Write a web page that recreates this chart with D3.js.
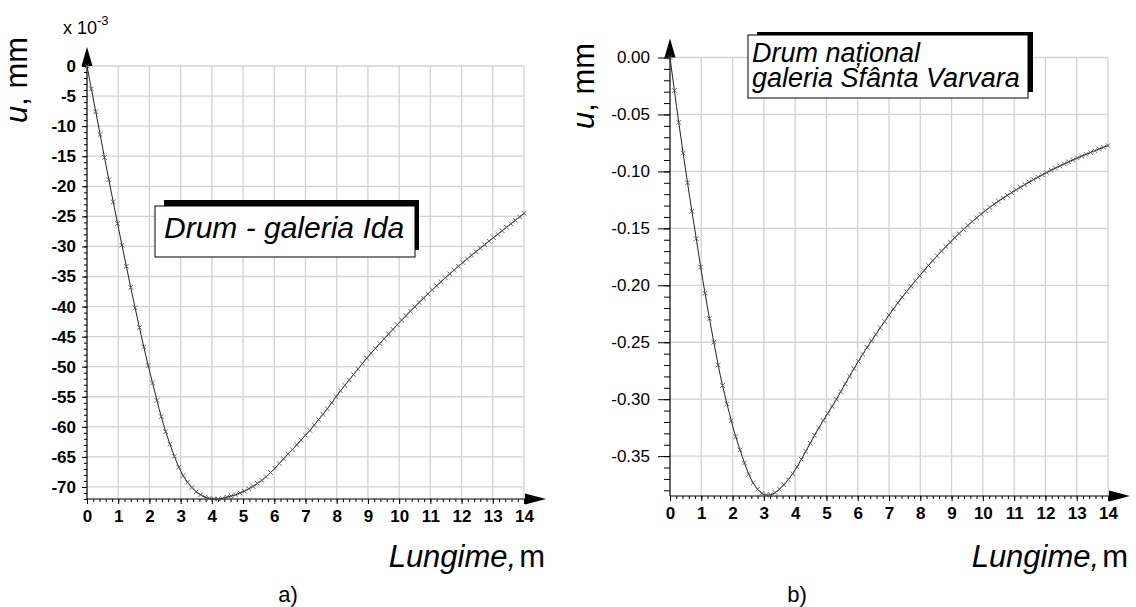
<!DOCTYPE html>
<html><head><meta charset="utf-8">
<script src="https://cdn.jsdelivr.net/npm/d3@7"></script>
<style>body{margin:0;background:#fff}svg{display:block}text{font-family:"Liberation Sans",Arial,sans-serif}</style>
</head><body>
<svg id="c" width="1136" height="607"></svg>
<script>
// sampling positions along the length (m)
const lengths = d3.range(0, 101).map(i => +(i * 0.14).toFixed(2));
// a) Drum - galeria Ida, u in mm x 10^-3
const uIda = [0,-3.8,-7.6,-11.4,-15.2,-18.9,-22.6,-26.2,-29.8,-33.3,
 -36.8,-40.2,-43.5,-46.7,-49.8,-52.7,-55.6,-58.3,-60.8,-62.9,
 -64.9,-66.7,-68.1,-69.2,-70.1,-70.8,-71.3,-71.7,-71.9,-72.0,
 -72.0,-71.9,-71.7,-71.5,-71.3,-71.0,-70.7,-70.3,-69.9,-69.4,
 -68.9,-68.3,-67.6,-66.9,-66.1,-65.3,-64.5,-63.8,-63.0,-62.2,
 -61.4,-60.6,-59.7,-58.8,-57.9,-57.0,-56.0,-55.0,-54.0,-53.1,
 -52.2,-51.3,-50.4,-49.5,-48.6,-47.75,-46.95,-46.15,-45.35,-44.57,
 -43.79,-43.02,-42.26,-41.51,-40.77,-40.04,-39.32,-38.61,-37.91,-37.22,
 -36.54,-35.87,-35.21,-34.56,-33.92,-33.29,-32.67,-32.06,-31.46,-30.87,
 -30.29,-29.71,-29.13,-28.55,-27.97,-27.39,-26.82,-26.24,-25.66,-25.08,-24.5];
// b) Drum national - galeria Sfanta Varvara, u in mm
const uVarvara = [0,-0.029,-0.057,-0.084,-0.110,-0.135,-0.159,-0.184,-0.207,-0.229,
 -0.250,-0.270,-0.288,-0.304,-0.319,-0.333,-0.3445,-0.356,-0.366,-0.3735,
 -0.3790,-0.3827,-0.3842,-0.3838,-0.3820,-0.3790,-0.3751,-0.3706,-0.3654,-0.3594,
 -0.3528,-0.3458,-0.3387,-0.3317,-0.3250,-0.3187,-0.3125,-0.3064,-0.3000,-0.2933,
 -0.2865,-0.2798,-0.2732,-0.2668,-0.2605,-0.2545,-0.2488,-0.2431,-0.2374,-0.2318,
 -0.2262,-0.2208,-0.2155,-0.2105,-0.2056,-0.2008,-0.1961,-0.1915,-0.1870,-0.1826,
 -0.1783,-0.1741,-0.1700,-0.1660,-0.1621,-0.1583,-0.1546,-0.1510,-0.1475,-0.1441,
 -0.1408,-0.1376,-0.1345,-0.1316,-0.1288,-0.1261,-0.1235,-0.1210,-0.1186,-0.1162,
 -0.1139,-0.1116,-0.1094,-0.1072,-0.1051,-0.1030,-0.1010,-0.0990,-0.0971,-0.0952,
 -0.0934,-0.0916,-0.0899,-0.0882,-0.0866,-0.0850,-0.0834,-0.0818,-0.0803,-0.0788,-0.0773];

const xTicks = d3.range(0, 15);
const yTicksA = [0,-5,-10,-15,-20,-25,-30,-35,-40,-45,-50,-55,-60,-65,-70];
const yTicksB = [0,-0.05,-0.10,-0.15,-0.20,-0.25,-0.30,-0.35];
const legendA = ["Drum - galeria Ida"];
const legendB = ["Drum național", "galeria Sfânta Varvara"];
const xTitle = ["Lungime,", "m"];
const yTitle = ["u", ", mm"];
const panelLabels = ["a)", "b)"];

const svg = d3.select("#c");
svg.append("rect").attr("width",1136).attr("height",607).attr("fill","#fff");

function panel(o) {
  const g = svg.append("g");
  const x = d3.scaleLinear([0,14],[o.x0,o.x1]);
  const y = d3.scaleLinear([o.yMin,0],[o.y1,o.y0]);
  // grid
  g.selectAll(".vg").data(xTicks.slice(1)).join("line")
    .attr("x1",d=>x(d)).attr("x2",d=>x(d)).attr("y1",y(0)).attr("y2",y(o.yMin))
    .attr("stroke","#d2d2d2").attr("stroke-width",1.3);
  g.selectAll(".hg").data(o.yTicks).join("line")
    .attr("x1",x(0)).attr("x2",x(14)).attr("y1",d=>y(d)).attr("y2",d=>y(d))
    .attr("stroke","#d2d2d2").attr("stroke-width",1.3);
  // minor y ticks
  const minorY = d3.range(0, Math.round(-o.yMin/o.minorStep)+1).map(i => -i*o.minorStep).filter(v=>v>=o.yMin-1e-9);
  g.append("g").attr("transform",`translate(${x(0)},0)`)
    .call(d3.axisLeft(y).tickValues(minorY).tickSize(o.minorLen).tickFormat(""))
    .call(a=>a.select(".domain").remove())
    .selectAll("line").attr("stroke","#000");
  g.append("g").attr("transform",`translate(${x(0)},0)`)
    .call(d3.axisLeft(y).tickValues(o.yTicks).tickSize(o.majorLen).tickPadding(o.padY).tickFormat(o.fmt))
    .call(a=>a.select(".domain").remove())
    .call(a=>a.selectAll("line").attr("stroke","#000"))
    .call(a=>a.selectAll("text").attr("font-size",17).attr("font-family","Liberation Sans, Arial").attr("font-weight",o.bold?"bold":"normal").attr("fill","#000"));
  // x ticks
  const minorX = d3.range(0, 71).map(i => i*0.2);
  g.append("g").attr("transform",`translate(0,${y(o.yMin)})`)
    .call(d3.axisBottom(x).tickValues(minorX).tickSize(3).tickFormat(""))
    .call(a=>a.select(".domain").remove())
    .selectAll("line").attr("stroke","#000");
  g.append("g").attr("transform",`translate(0,${y(o.yMin)})`)
    .call(d3.axisBottom(x).tickValues(xTicks).tickSize(5).tickPadding(6).tickFormat(d=>String(d)))
    .call(a=>a.select(".domain").remove())
    .call(a=>a.selectAll("line").attr("stroke","#000"))
    .call(a=>a.selectAll("text").attr("font-size",17).attr("font-family","Liberation Sans, Arial").attr("font-weight","bold").attr("fill","#000"));
  // axis lines with arrows
  g.append("line").attr("x1",x(0)).attr("x2",x(0)).attr("y1",y(o.yMin)).attr("y2",o.y0-8).attr("stroke","#000").attr("stroke-width",1.2);
  g.append("path").attr("d",`M${x(0)},${o.y0-19}L${x(0)-5.5},${o.y0}L${x(0)+5.5},${o.y0}Z`).attr("fill","#000");
  g.append("line").attr("x1",x(0)).attr("x2",x(14)+10).attr("y1",y(o.yMin)).attr("y2",y(o.yMin)).attr("stroke","#000").attr("stroke-width",1.2);
  g.append("path").attr("d",`M${x(14)+22},${y(o.yMin)}L${x(14)+1},${y(o.yMin)-5.5}L${x(14)+1},${y(o.yMin)+5.5}Z`).attr("fill","#000");
  // curve
  const pts = lengths.map((l,i)=>[l,o.data[i]]);
  g.append("path").datum(pts).attr("fill","none").attr("stroke","#222").attr("stroke-width",1)
    .attr("d",d3.line().x(d=>x(d[0])).y(d=>y(d[1])).curve(d3.curveMonotoneX));
  g.selectAll(".mk").data(pts).join("path")
    .attr("transform",d=>`translate(${x(d[0])},${y(d[1])})`)
    .attr("d","M-2.3,-2.3L2.3,2.3M-2.3,2.3L2.3,-2.3")
    .attr("stroke","#555").attr("stroke-width",0.9).attr("fill","none");
  // y title
  const yt = g.append("text").attr("transform",`translate(${o.ytX},${o.ytY}) rotate(-90)`)
    .attr("text-anchor","middle").attr("font-size",31);
  yt.append("tspan").attr("font-style","italic").text(yTitle[0]);
  yt.append("tspan").text(yTitle[1]);
  // x title
  const xt = g.append("text").attr("x",o.xtX).attr("y",567).attr("text-anchor","end").attr("font-size",31);
  xt.append("tspan").attr("font-style","italic").text(xTitle[0]);
  xt.append("tspan").attr("dx",3).text(xTitle[1]);
  // panel label
  g.append("text").attr("x",o.plX).attr("y",602).attr("text-anchor","middle")
    .attr("font-family","Liberation Serif, Times New Roman, serif").attr("font-size",22).text(o.pl);
  // legend
  const L = o.legend;
  g.append("rect").attr("x",L.sx).attr("y",L.sy).attr("width",L.sw).attr("height",L.sh).attr("fill","#000");
  g.append("rect").attr("x",L.x).attr("y",L.y).attr("width",L.w).attr("height",L.h).attr("fill","#fff").attr("stroke","#000").attr("stroke-width",1);
  g.selectAll(".lg").data(L.lines).join("text").attr("x",L.tx).attr("y",(d,i)=>L.ty+i*L.dy)
    .attr("font-style","italic").attr("font-size",L.fs).attr("fill","#000").text(d=>d);
  return {x,y};
}

panel({x0:87,x1:524,y0:66,y1:499,yMin:-72,data:uIda,yTicks:yTicksA,minorStep:1,minorLen:3,majorLen:5,padY:6,
  fmt:d=>String(d),bold:true,ytX:27,ytY:80,xtX:545,plX:288,pl:panelLabels[0],
  legend:{x:155,y:206,w:260,h:51,sx:164,sy:200,sw:255,sh:50,tx:164,ty:238,dy:0,fs:30,lines:legendA}});
panel({x0:670,x1:1108,y0:57.5,y1:496,yMin:-0.385,data:uVarvara,yTicks:yTicksB,minorStep:0.01,minorLen:6,majorLen:12,padY:8,
  fmt:d=>d.toFixed(2),bold:false,ytX:594,ytY:86,xtX:1128,plX:797,pl:panelLabels[1],
  legend:{x:748,y:35,w:280,h:63,sx:757,sy:32,sw:276,sh:60,tx:752,ty:62,dy:25,fs:27,lines:legendB}});

// x 10^-3 multiplier
const m = svg.append("text").attr("x",63).attr("y",34).attr("font-size",18);
m.append("tspan").text("x 10");
m.append("tspan").attr("dy",-9).attr("font-size",13).text("-3");
</script>
</body></html>
